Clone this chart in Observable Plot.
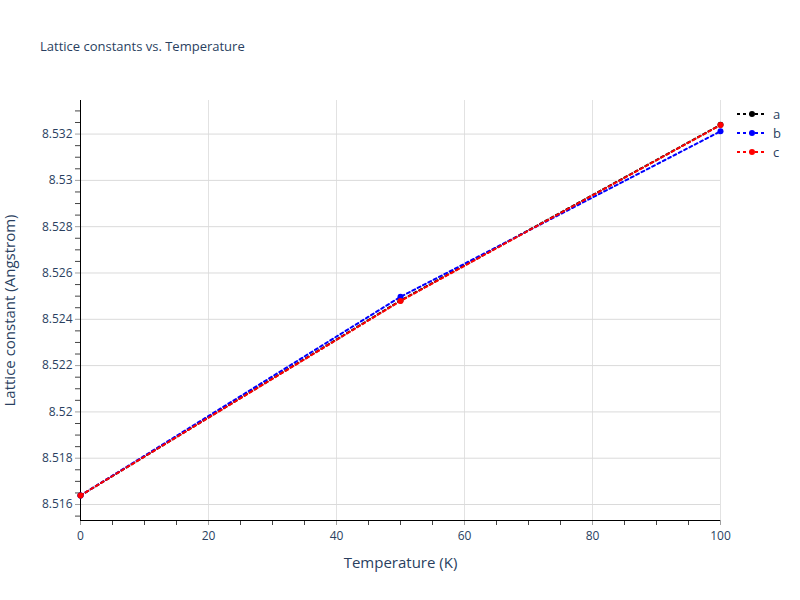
<!DOCTYPE html>
<html><head><meta charset="utf-8">
<script src="https://cdn.jsdelivr.net/npm/d3@7"></script>
<script src="https://cdn.jsdelivr.net/npm/@observablehq/plot@0.6"></script>
<style>
body{margin:0;background:#fff;font-family:"Open Sans",sans-serif;}
#wrap{position:relative;width:800px;height:600px;overflow:hidden;}
#title{position:absolute;left:40px;top:37px;font-size:13px;line-height:18px;color:#2a3f5f;}
#legend{position:absolute;left:736px;top:104px;font-size:13px;color:#2a3f5f;}
.row{display:flex;align-items:center;height:19px;}
.row span{margin-left:5px;}
</style></head><body>
<div id="wrap"><div id="chart"></div><div id="title">Lattice constants vs. Temperature</div><div id="legend"></div></div>
<script>
const temperature = [0, 50, 100];
const seriesNames = ["a", "b", "c"];
const seriesColors = ["black", "blue", "red"];
const aValues = [8.51639, 8.52481, 8.53240];
const bValues = [8.51639, 8.52497, 8.53212];
const cValues = [8.51639, 8.52479, 8.53239];
const xTicks = [0, 20, 40, 60, 80, 100];
const yTicks = [8.516, 8.518, 8.520, 8.522, 8.524, 8.526, 8.528, 8.530, 8.532];
const xDomain = [0, 100];
const yDomain = [8.51531, 8.53345];
const xLabel = "Temperature (K)";
const yLabel = "Lattice constant (Angstrom)";

const values = [aValues, bValues, cValues];
const xMinor = d3.range(0, 101, 5).filter(v => v % 20 !== 0);
const yMinor = d3.range(17031, 17067).filter(k => k % 4 !== 0).map(k => k * 0.0005);

const seriesMarks = seriesNames.flatMap((s, i) => {
  const rows = temperature.map((t, j) => ({series: s, T: t, v: values[i][j]}));
  return [
    Plot.line(rows, {x: "T", y: "v", stroke: seriesColors[i], strokeWidth: 2, strokeDasharray: "3,3"}),
    Plot.dot(rows, {x: "T", y: "v", fill: seriesColors[i], r: 3})
  ];
});

const chart = Plot.plot({
  width: 800, height: 600,
  marginLeft: 80, marginRight: 80, marginTop: 100, marginBottom: 80,
  x: {domain: xDomain},
  y: {domain: yDomain},
  style: {fontFamily: "'Open Sans', sans-serif", fontSize: "12px", background: "white", color: "#2a3f5f"},
  marks: [
    Plot.gridX(xTicks, {stroke: "#e2e2e2", strokeOpacity: 1}),
    Plot.gridY(yTicks, {stroke: "#dadada", strokeOpacity: 1}),
    Plot.axisX(xTicks, {tickSize: 5, stroke: "#a0a0a0", fill: "#2a3f5f", tickPadding: 6, fontSize: 12, label: null}),
    Plot.axisX(xMinor, {tickSize: 5, stroke: "#444", tickFormat: () => "", label: null}),
    Plot.axisY(yTicks, {tickSize: 5, stroke: "#a0a0a0", fill: "#2a3f5f", tickPadding: 3, fontSize: 12, tickFormat: d3.format(".4~f"), label: null}),
    Plot.axisY(yMinor, {tickSize: 5, stroke: "#444", tickFormat: () => "", label: null}),
    Plot.ruleX([xDomain[0]], {stroke: "black", strokeWidth: 1}),
    Plot.ruleY([yDomain[0]], {stroke: "black", strokeWidth: 1}),
    ...seriesMarks,
    Plot.text([xLabel], {frameAnchor: "bottom", dy: 47, fontSize: 15, fill: "#2a3f5f", textAnchor: "middle"}),
    Plot.text([yLabel], {frameAnchor: "left", dx: -70, rotate: -90, fontSize: 15, fill: "#2a3f5f", textAnchor: "middle"})
  ]
});
document.getElementById("chart").appendChild(chart);

const legend = d3.select("#legend");
seriesNames.forEach((s, i) => {
  const row = legend.append("div").attr("class", "row");
  const svg = row.append("svg").attr("width", 32).attr("height", 10);
  svg.append("line").attr("x1", 1).attr("x2", 31).attr("y1", 5).attr("y2", 5)
    .attr("stroke", seriesColors[i]).attr("stroke-width", 2).attr("stroke-dasharray", "3,3");
  svg.append("circle").attr("cx", 16).attr("cy", 5).attr("r", 3).attr("fill", seriesColors[i]);
  row.append("span").text(s);
});
</script>
</body></html>
